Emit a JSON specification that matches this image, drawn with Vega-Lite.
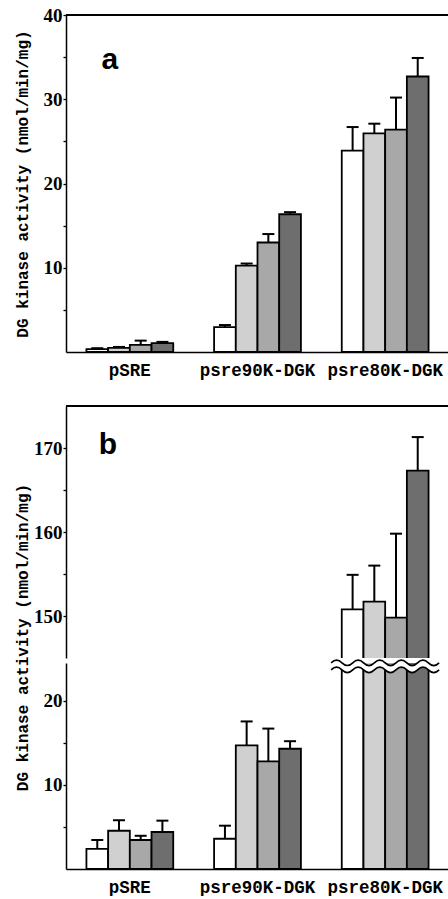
{
  "$schema": "https://vega.github.io/schema/vega-lite/v6.json",
  "padding": {"left": 13, "top": 6, "right": 0, "bottom": 0},
  "background": "white",
  "config": {
    "view": {"stroke": null},
    "axis": {"domainColor": "black", "domainWidth": 1.5, "tickColor": "black", "tickWidth": 1.3, "labelColor": "black", "titleColor": "black", "grid": false}
  },
  "datasets": {
    "panelA": [
      {"group": "pSRE", "series": "s1", "value": 0.35, "upper": 0.45},
      {"group": "pSRE", "series": "s2", "value": 0.5, "upper": 0.6},
      {"group": "pSRE", "series": "s3", "value": 0.85, "upper": 1.35},
      {"group": "pSRE", "series": "s4", "value": 1.05, "upper": 1.2},
      {"group": "psre90K-DGK", "series": "s1", "value": 2.95, "upper": 3.2},
      {"group": "psre90K-DGK", "series": "s2", "value": 10.25, "upper": 10.5},
      {"group": "psre90K-DGK", "series": "s3", "value": 13.0, "upper": 14.0},
      {"group": "psre90K-DGK", "series": "s4", "value": 16.35, "upper": 16.6},
      {"group": "psre80K-DGK", "series": "s1", "value": 23.9, "upper": 26.7},
      {"group": "psre80K-DGK", "series": "s2", "value": 25.95, "upper": 27.1},
      {"group": "psre80K-DGK", "series": "s3", "value": 26.4, "upper": 30.2},
      {"group": "psre80K-DGK", "series": "s4", "value": 32.7, "upper": 34.9}
    ],
    "panelB": [
      {"group": "pSRE", "series": "s1", "value": 2.4, "upper": 3.45},
      {"group": "pSRE", "series": "s2", "value": 4.55, "upper": 5.8},
      {"group": "pSRE", "series": "s3", "value": 3.45, "upper": 3.95},
      {"group": "pSRE", "series": "s4", "value": 4.4, "upper": 5.75},
      {"group": "psre90K-DGK", "series": "s1", "value": 3.6, "upper": 5.15},
      {"group": "psre90K-DGK", "series": "s2", "value": 14.7, "upper": 17.55},
      {"group": "psre90K-DGK", "series": "s3", "value": 12.8, "upper": 16.7},
      {"group": "psre90K-DGK", "series": "s4", "value": 14.3, "upper": 15.2},
      {"group": "psre80K-DGK", "series": "s1", "value": 150.8, "upper": 154.9},
      {"group": "psre80K-DGK", "series": "s2", "value": 151.7, "upper": 156.0},
      {"group": "psre80K-DGK", "series": "s3", "value": 149.8, "upper": 159.8},
      {"group": "psre80K-DGK", "series": "s4", "value": 167.3, "upper": 171.3}
    ]
  },
  "spacing": 54,
  "bounds": "flush",
  "vconcat": [
    {
      "width": 383,
      "height": 337,
      "data": {"name": "panelA"},
      "layer": [
        {
          "mark": {"type": "bar", "stroke": "black", "strokeWidth": 1.8},
          "encoding": {
            "x": {"field": "group", "type": "nominal", "sort": null, "scale": {"paddingInner": 0.32, "paddingOuter": 0.16},
              "axis": {"title": null, "ticks": false, "labelAngle": 0, "labelFont": "Liberation Mono", "labelFontWeight": "bold", "labelFontSize": 17.5, "labelPadding": 9}},
            "xOffset": {"field": "series", "type": "nominal", "scale": {"paddingInner": 0, "paddingOuter": 0}},
            "y": {"field": "value", "type": "quantitative", "scale": {"domain": [0, 40], "nice": false},
              "axis": {"title": "DG kinase activity (nmol/min/mg)", "values": [5, 10, 15, 20, 25, 30, 35, 40], "labelExpr": "datum.value % 10 === 0 ? datum.label : ''", "labelOverlap": false, "tickSize": 3, "labelPadding": 1, "labelFont": "Liberation Serif", "labelFontWeight": "bold", "labelFontSize": 19, "titleFont": "Liberation Mono", "titleFontWeight": "bold", "titleFontSize": 16, "titleX": -36}},
            "fill": {"field": "series", "type": "nominal", "scale": {"domain": ["s1", "s2", "s3", "s4"], "range": ["#ffffff", "#d0d0d0", "#a8a8a8", "#6e6e6e"]}, "legend": null}
          }
        },
        {
          "mark": {"type": "rule", "strokeWidth": 2, "color": "black"},
          "encoding": {
            "x": {"field": "group", "type": "nominal", "sort": null},
            "xOffset": {"field": "series", "type": "nominal"},
            "y": {"field": "value", "type": "quantitative"},
            "y2": {"field": "upper"}
          }
        },
        {
          "mark": {"type": "tick", "thickness": 2, "size": 12, "color": "black", "opacity": 1},
          "encoding": {
            "x": {"field": "group", "type": "nominal", "sort": null},
            "xOffset": {"field": "series", "type": "nominal"},
            "y": {"field": "upper", "type": "quantitative"}
          }
        },
        {
          "mark": {"type": "rule", "strokeWidth": 1.5, "color": "black"},
          "encoding": {"y": {"datum": 40}}
        },
        {
          "transform": [{"filter": "datum.group === 'pSRE' && datum.series === 's1'"}],
          "mark": {"type": "text", "text": "a", "font": "Liberation Sans", "fontWeight": "bold", "fontSize": 30, "baseline": "alphabetic", "align": "center", "dx": -20, "color": "black"},
          "encoding": {"x": {"field": "group", "type": "nominal", "sort": null}, "y": {"datum": 33.6}}
        }
      ]
    },
    {
      "spacing": 5,
      "bounds": "flush",
      "vconcat": [
        {
          "width": 383,
          "height": 252,
          "data": {"name": "panelB"},
          "layer": [
            {
              "mark": {"type": "bar", "stroke": "black", "strokeWidth": 1.8, "clip": true},
              "encoding": {
                "x": {"field": "group", "type": "nominal", "sort": null, "scale": {"paddingInner": 0.32, "paddingOuter": 0.16}, "axis": null},
                "xOffset": {"field": "series", "type": "nominal", "scale": {"paddingInner": 0, "paddingOuter": 0}},
                "y": {"field": "value", "type": "quantitative", "scale": {"domain": [145, 175], "nice": false, "zero": false},
                  "axis": {"title": null, "values": [150, 155, 160, 165, 170], "labelExpr": "datum.value % 10 === 0 ? datum.label : ''", "labelOverlap": false, "tickSize": 3, "labelPadding": 1, "labelFont": "Liberation Serif", "labelFontWeight": "bold", "labelFontSize": 19}},
                "fill": {"field": "series", "type": "nominal", "scale": {"domain": ["s1", "s2", "s3", "s4"], "range": ["#ffffff", "#d0d0d0", "#a8a8a8", "#6e6e6e"]}, "legend": null}
              }
            },
            {
              "mark": {"type": "rule", "strokeWidth": 2, "color": "black", "clip": true},
              "encoding": {
                "x": {"field": "group", "type": "nominal", "sort": null},
                "xOffset": {"field": "series", "type": "nominal"},
                "y": {"field": "value", "type": "quantitative"},
                "y2": {"field": "upper"}
              }
            },
            {
              "mark": {"type": "tick", "thickness": 2, "size": 12, "color": "black", "opacity": 1, "clip": true},
              "encoding": {
                "x": {"field": "group", "type": "nominal", "sort": null},
                "xOffset": {"field": "series", "type": "nominal"},
                "y": {"field": "upper", "type": "quantitative"}
              }
            },
            {
              "mark": {"type": "rule", "strokeWidth": 1.5, "color": "black"},
              "encoding": {"y": {"datum": 175}}
            },
            {
              "transform": [{"filter": "datum.group === 'pSRE' && datum.series === 's1'"}],
              "mark": {"type": "text", "text": "b", "font": "Liberation Sans", "fontWeight": "bold", "fontSize": 30, "baseline": "alphabetic", "align": "center", "dx": -22, "color": "black"},
              "encoding": {"x": {"field": "group", "type": "nominal", "sort": null}, "y": {"datum": 169.3}}
            }
          ]
        },
        {
          "width": 383,
          "height": 206,
          "data": {"name": "panelB"},
          "layer": [
            {
              "mark": {"type": "bar", "stroke": "black", "strokeWidth": 1.8, "clip": true},
              "encoding": {
                "x": {"field": "group", "type": "nominal", "sort": null, "scale": {"paddingInner": 0.32, "paddingOuter": 0.16},
                  "axis": {"title": null, "ticks": false, "labelAngle": 0, "labelFont": "Liberation Mono", "labelFontWeight": "bold", "labelFontSize": 17.5, "labelPadding": 9}},
                "xOffset": {"field": "series", "type": "nominal", "scale": {"paddingInner": 0, "paddingOuter": 0}},
                "y": {"field": "value", "type": "quantitative", "scale": {"domain": [0, 24.5], "nice": false},
                  "axis": {"title": "DG kinase activity (nmol/min/mg)", "values": [5, 10, 15, 20], "labelExpr": "datum.value % 10 === 0 ? datum.label : ''", "labelOverlap": false, "tickSize": 3, "labelPadding": 1, "labelFont": "Liberation Serif", "labelFontWeight": "bold", "labelFontSize": 19, "titleFont": "Liberation Mono", "titleFontWeight": "bold", "titleFontSize": 16, "titleX": -36, "titleY": -26}},
                "fill": {"field": "series", "type": "nominal", "scale": {"domain": ["s1", "s2", "s3", "s4"], "range": ["#ffffff", "#d0d0d0", "#a8a8a8", "#6e6e6e"]}, "legend": null}
              }
            },
            {
              "mark": {"type": "rule", "strokeWidth": 2, "color": "black", "clip": true},
              "encoding": {
                "x": {"field": "group", "type": "nominal", "sort": null},
                "xOffset": {"field": "series", "type": "nominal"},
                "y": {"field": "value", "type": "quantitative"},
                "y2": {"field": "upper"}
              }
            },
            {
              "mark": {"type": "tick", "thickness": 2, "size": 12, "color": "black", "opacity": 1, "clip": true},
              "encoding": {
                "x": {"field": "group", "type": "nominal", "sort": null},
                "xOffset": {"field": "series", "type": "nominal"},
                "y": {"field": "upper", "type": "quantitative"}
              }
            },
            {
              "transform": [{"filter": "datum.group === 'psre80K-DGK' && datum.series === 's1'"}],
              "mark": {"type": "point", "filled": true, "fill": "white", "strokeWidth": 0, "opacity": 1, "size": 11664,
                "shape": "M -1 -0.065 Q -0.9 -0.165 -0.8 -0.065 T -0.6 -0.065 T -0.4 -0.065 T -0.2 -0.065 T 0 -0.065 T 0.2 -0.065 T 0.4 -0.065 T 0.6 -0.065 T 0.8 -0.065 T 1 -0.065 L 1 0.065 Q 0.9 0.165 0.8 0.065 T 0.6 0.065 T 0.4 0.065 T 0.2 0.065 T 0 0.065 T -0.2 0.065 T -0.4 0.065 T -0.6 0.065 T -0.8 0.065 T -1 0.065 Z"},
              "encoding": {"x": {"field": "group", "type": "nominal", "sort": null}, "y": {"datum": 24.1}}
            },
            {
              "transform": [{"filter": "datum.group === 'psre80K-DGK' && datum.series === 's1'"}],
              "mark": {"type": "point", "filled": false, "stroke": "black", "strokeWidth": 1.6, "opacity": 1, "size": 11664,
                "shape": "M -1 -0.065 Q -0.9 -0.165 -0.8 -0.065 T -0.6 -0.065 T -0.4 -0.065 T -0.2 -0.065 T 0 -0.065 T 0.2 -0.065 T 0.4 -0.065 T 0.6 -0.065 T 0.8 -0.065 T 1 -0.065 M -1 0.065 Q -0.9 -0.035 -0.8 0.065 T -0.6 0.065 T -0.4 0.065 T -0.2 0.065 T 0 0.065 T 0.2 0.065 T 0.4 0.065 T 0.6 0.065 T 0.8 0.065 T 1 0.065"},
              "encoding": {"x": {"field": "group", "type": "nominal", "sort": null}, "y": {"datum": 24.1}}
            }
          ]
        }
      ]
    }
  ]
}
